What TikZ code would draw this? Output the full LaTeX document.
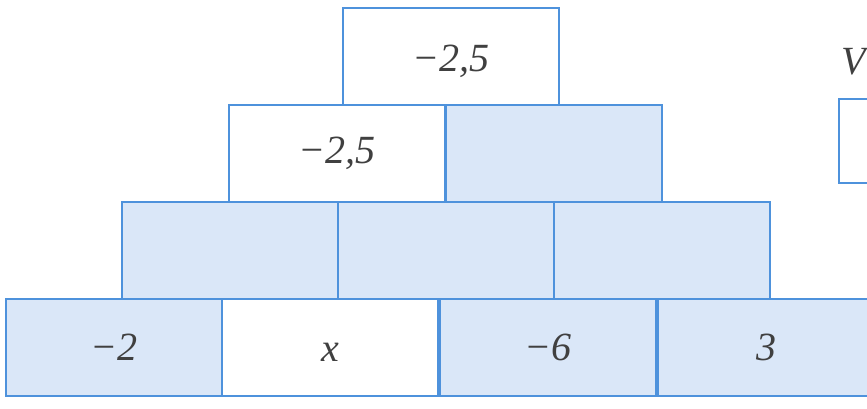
\documentclass[tikz,border=0pt]{standalone}
\usepackage{fontspec}
\setmainfont{Liberation Serif}
\definecolor{lineblue}{RGB}{78,146,220}
\definecolor{cellblue}{RGB}{218,231,248}
\begin{document}
\begin{tikzpicture}[x=1pt,y=-1pt,
  cell/.style={draw=lineblue, line width=2pt, minimum width=216pt, minimum height=97pt,
    inner sep=0pt, outer sep=0pt, anchor=north west, text=black!75, font=\fontsize{40}{44}\selectfont\itshape},
  bluecell/.style={cell, fill=cellblue},
  whitecell/.style={cell, fill=white}]
\useasboundingbox (0,0) rectangle (867,409);
\clip (0,0) rectangle (867,409);
% bottom row
\node[bluecell]  (d1) at (6,299)   {−2};
\node[whitecell, text height=30pt, text depth=2pt] (d2) at (222,299) {x};
\node[bluecell]  (d3) at (440,299) {−6};
\node[bluecell]  (d4) at (658,299) {3};
% third row
\node[bluecell] (c1) at (122,202) {};
\node[bluecell] (c2) at (338,202) {};
\node[bluecell] (c3) at (554,202) {};
% second row
\node[whitecell] (b1) at (229,105) {−2,5};
\node[bluecell]  (b2) at (446,105) {};
% top row
\node[whitecell, text height=36pt, text depth=5pt] (a1) at (343,8) {−2,5};
% partial elements at right edge
\node[draw=lineblue, line width=2pt, fill=white, minimum width=60pt, minimum height=84pt,
  inner sep=0pt, anchor=north west] (r1) at (838,98) {};
\node[text=black!75, font=\fontsize{40}{44}\selectfont\itshape, anchor=east, inner sep=0pt] (v) at (866,62) {V};
\end{tikzpicture}
\end{document}
